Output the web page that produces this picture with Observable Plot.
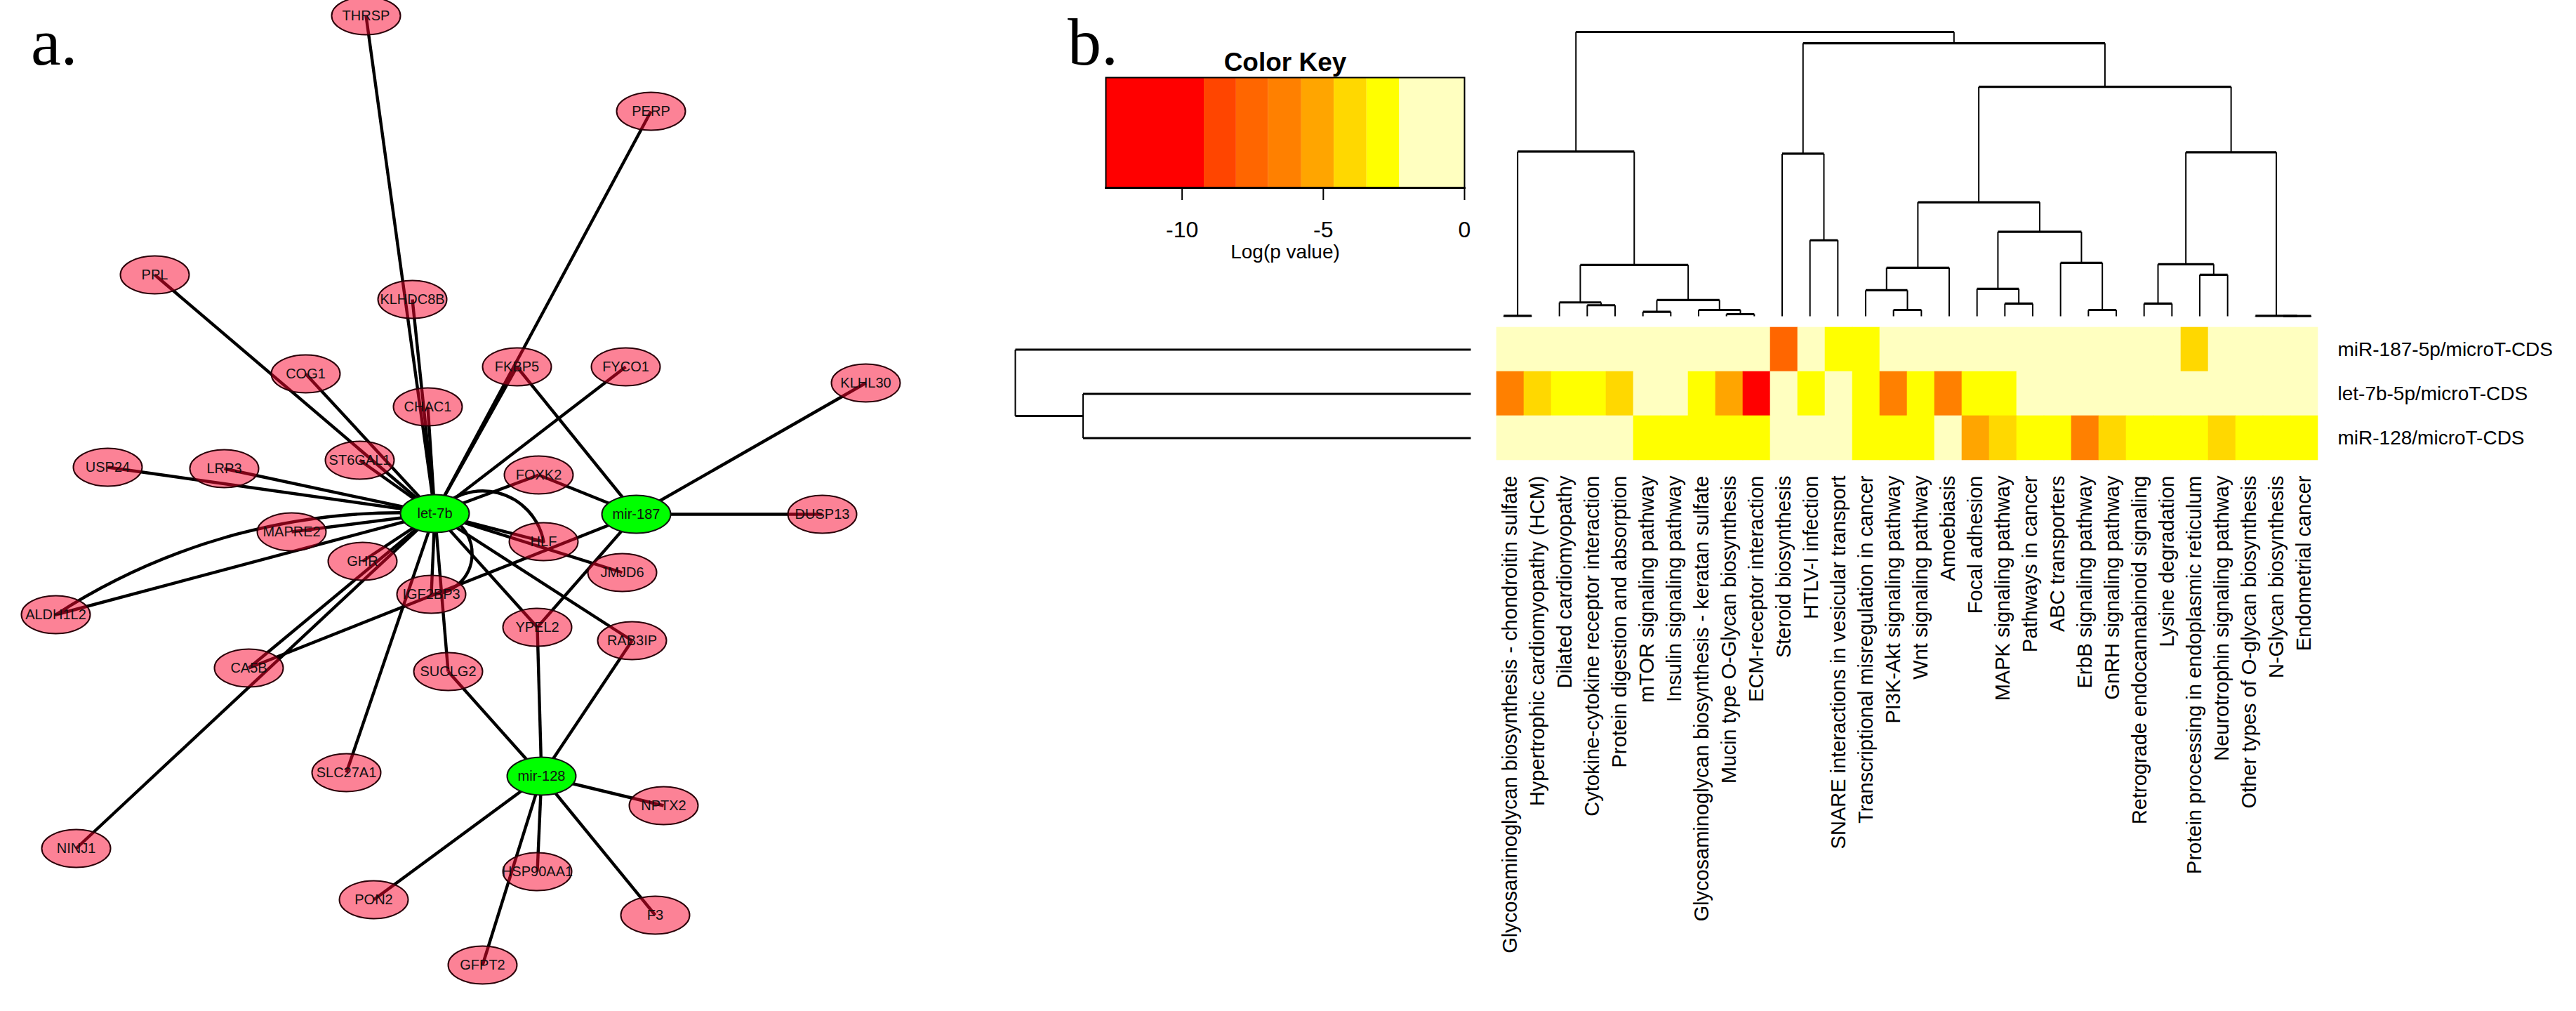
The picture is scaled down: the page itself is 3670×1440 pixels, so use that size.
<!DOCTYPE html>
<html>
<head>
<meta charset="utf-8">
<script src="https://cdn.jsdelivr.net/npm/d3@7"></script>
<script src="https://cdn.jsdelivr.net/npm/@observablehq/plot@0.6"></script>
<style>
  html, body { margin: 0; padding: 0; background: #fff; }
  #root { position: relative; width: 3670px; height: 1440px; overflow: hidden; background: #fff;
          font-family: "Liberation Sans", Arial, sans-serif; }
  .box { position: absolute; }
  .letter { position: absolute; font-family: "Liberation Serif", "Times New Roman", serif;
            font-size: 96px; line-height: 1; color: #000; }
</style>
</head>
<body>
<div id="root"></div>
<script>
// ---------------- Panel a: network data ----------------
const geneNames = ["THRSP","PERP","PPL","KLHDC8B","COG1","CHAC1","FKBP5","FYCO1","KLHL30","USP24","LRP3","ST6GAL1","FOXK2",
  "DUSP13","MAPRE2","HLF","GHR","JMJD6","IGF2BP3","ALDH1L2","YPEL2","RAB3IP","CA5B","SUCLG2","SLC27A1","NPTX2","NINJ1","HSP90AA1","PON2","F3","GFPT2"];
const geneX = [521,927,220,587,435,609,736,891,1233,153,319,512,767, 1171,415,774,516,886,614,79,765,900,354,638,493,945,108,765,532,933,687];
const geneY = [22,158,391,426,532,579,522,522,545,665,667,655,676, 732,757,771,799,815,846,875,893,912,951,956,1100,1147,1208,1241,1281,1303,1374];
const mirNames = ["let-7b","mir-187","mir-128"];
const mirX = [619, 906, 771];
const mirY = [731, 732, 1105];

const edgeSource = [
  "let-7b","let-7b","let-7b","let-7b","let-7b","let-7b","let-7b","let-7b","let-7b","let-7b","let-7b","let-7b","let-7b",
  "let-7b","let-7b","let-7b","let-7b","let-7b","let-7b","let-7b","let-7b","let-7b","let-7b","let-7b","let-7b","let-7b","let-7b",
  "mir-187","mir-187","mir-187","mir-187","mir-187","mir-187",
  "mir-128","mir-128","mir-128","mir-128","mir-128","mir-128","mir-128","mir-128"];
const edgeTarget = [
  "THRSP","PERP","PPL","KLHDC8B","COG1","CHAC1","FKBP5","FYCO1","USP24","LRP3","ST6GAL1","FOXK2","MAPRE2",
  "ALDH1L2","ALDH1L2","GHR","IGF2BP3","IGF2BP3","HLF","HLF","JMJD6","YPEL2","RAB3IP","SUCLG2","SLC27A1","CA5B","NINJ1",
  "FKBP5","FOXK2","KLHL30","DUSP13","YPEL2","CA5B",
  "YPEL2","RAB3IP","SUCLG2","NPTX2","PON2","HSP90AA1","F3","GFPT2"];
// bend angle (degrees) for curved parallel edges; 0 = straight
const edgeBend = [
  0,0,0,0,0,0,0,0,0,0,0,0,0,
  0,-18,0,0,88,0,65,0,0,0,0,0,0,0,
  0,0,0,0,0,0,
  0,0,0,0,0,0,0,0];

// ---------------- Panel b: heatmap data ----------------
const pathways = [
  "Glycosaminoglycan biosynthesis - chondroitin sulfate","Hypertrophic cardiomyopathy (HCM)","Dilated cardiomyopathy",
  "Cytokine-cytokine receptor interaction","Protein digestion and absorption","mTOR signaling pathway","Insulin signaling pathway",
  "Glycosaminoglycan biosynthesis - keratan sulfate","Mucin type O-Glycan biosynthesis","ECM-receptor interaction",
  "Steroid biosynthesis","HTLV-I infection","SNARE interactions in vesicular transport","Transcriptional misregulation in cancer",
  "PI3K-Akt signaling pathway","Wnt signaling pathway","Amoebiasis","Focal adhesion","MAPK signaling pathway","Pathways in cancer",
  "ABC transporters","ErbB signaling pathway","GnRH signaling pathway","Retrograde endocannabinoid signaling","Lysine degradation",
  "Protein processing in endoplasmic reticulum","Neurotrophin signaling pathway","Other types of O-glycan biosynthesis",
  "N-Glycan biosynthesis","Endometrial cancer"];
const rowNames = ["miR-187-5p/microT-CDS","let-7b-5p/microT-CDS","miR-128/microT-CDS"];
const miR187Values = [-0.6,-0.9,-0.4,-1.1,-0.8,-0.5,-0.7,-1.2,-0.9,-0.6,-7.6,-1.0,-2.8,-3.0,-0.7,-1.1,-0.9,-0.8,-0.5,-0.6,-0.9,-1.0,-0.8,-0.6,-0.7,-4.1,-0.5,-0.8,-0.6,-0.9];
const let7bValues  = [-6.5,-4.1,-3.0,-2.9,-3.9,-1.2,-1.0,-2.7,-5.3,-11.8,-0.9,-2.6,-1.1,-2.7,-6.2,-2.8,-6.6,-3.1,-2.9,-0.8,-1.0,-0.7,-0.9,-1.1,-0.6,-0.8,-1.0,-0.5,-0.7,-0.9];
const miR128Values = [-0.8,-1.0,-0.7,-0.9,-1.2,-3.0,-2.9,-3.1,-3.0,-2.6,-0.9,-1.1,-1.0,-2.8,-3.2,-2.7,-1.0,-5.1,-4.2,-2.8,-2.9,-6.3,-4.0,-2.7,-3.1,-2.6,-4.3,-3.0,-2.9,-3.2];

// colour key
const keyMin = -12.7;
const keyBreaks = [-9.22, -8.08, -6.94, -5.77, -4.62, -3.46, -2.30];
const keyColors = ["#FF0000","#FF4500","#FF6600","#FF8000","#FFA500","#FFD800","#FFFF00","#FFFFC0"];
const keyTicks = [-10, -5, 0];

// dendrograms (hclust-style merges: negative = leaf, positive = earlier merge), heights
const colMerge = [[-1,-2],[-4,-5],[-3,2],[-6,-7],[-9,-10],[-8,5],[4,6],[3,7],[1,8],[-12,-13],[-11,10],[-15,-16],[-14,12],[13,-17],
  [-19,-20],[-18,15],[-22,-23],[-21,17],[16,18],[14,19],[-24,-25],[-26,-27],[21,22],[-29,-30],[-28,24],[23,25],[20,26],[11,27],[9,28]];
const colHeight = [0.7,15.7,19.7,6.3,3,9,23,73,234,108,231,9,37,69,18,39,9,76,120,162,18,59,74,0.3,0.7,233,326,388,404];
const rowMerge = [[-2,-3],[-1,1]];
const rowHeight = [555, 652];

// ---------------- build ----------------
const root = document.getElementById("root");
const FONT = "'Liberation Sans', Arial, sans-serif";

function place(el, left, top) {
  const d = document.createElement("div");
  d.className = "box";
  d.style.left = left + "px";
  d.style.top = top + "px";
  d.appendChild(el);
  root.appendChild(d);
}

function ellipseSymbol(ratio) {
  return {
    draw(ctx, size) {
      const r = Math.sqrt(size / Math.PI), a = r, b = r * ratio, k = 0.5522847498;
      ctx.moveTo(a, 0);
      ctx.bezierCurveTo(a, b * k, a * k, b, 0, b);
      ctx.bezierCurveTo(-a * k, b, -a, b * k, -a, 0);
      ctx.bezierCurveTo(-a, -b * k, -a * k, -b, 0, -b);
      ctx.bezierCurveTo(a * k, -b, a, -b * k, a, 0);
      ctx.closePath();
    }
  };
}

// ---- network ----
const genes = geneNames.map((n, i) => ({name: n, x: geneX[i], y: geneY[i]}));
const mirs = mirNames.map((n, i) => ({name: n, x: mirX[i], y: mirY[i]}));
const pos = new Map([...genes, ...mirs].map(d => [d.name, d]));
const edges = edgeSource.map((s, i) => ({s: pos.get(s), t: pos.get(edgeTarget[i]), bend: edgeBend[i]}));
const straight = edges.filter(e => !e.bend);
const curved = edges.filter(e => e.bend);
const ell = ellipseSymbol(0.55);

const net = Plot.plot({
  width: 1300, height: 1440, margin: 0,
  style: {background: "transparent", maxWidth: "none", fontFamily: FONT, overflow: "visible"},
  x: {domain: [0, 1300], range: [0, 1300], axis: null},
  y: {domain: [0, 1440], range: [0, 1440], axis: null},
  marks: [
    Plot.link(straight, {x1: d => d.s.x, y1: d => d.s.y, x2: d => d.t.x, y2: d => d.t.y, stroke: "#000", strokeWidth: 4.4}),
    ...curved.map(e => Plot.arrow([e], {x1: d => d.s.x, y1: d => d.s.y, x2: d => d.t.x, y2: d => d.t.y,
        bend: e.bend, headLength: 0, stroke: "#000", strokeWidth: 4.4})),
    Plot.dot(genes, {x: "x", y: "y", r: 49, symbol: ell, fill: "rgb(250,6,46)", fillOpacity: 0.5, stroke: "#2a0008", strokeWidth: 2}),
    Plot.dot(mirs, {x: "x", y: "y", r: 49, symbol: ell, fill: "#00FF00", stroke: "#111", strokeWidth: 2}),
    Plot.text([...genes, ...mirs], {x: "x", y: "y", text: "name", fontSize: 20, fill: "#111", fontFamily: FONT})
  ]
});
place(net, 0, 0);

// ---- dendrogram helper ----
function dendroSegments(merge, height) {
  const p = [], h = [], segs = [];
  const P = k => k < 0 ? (-k - 1) + 0.5 : p[k - 1];
  const H = k => k < 0 ? 0 : h[k - 1];
  merge.forEach(([a, b], i) => {
    const pa = P(a), pb = P(b), hh = height[i];
    segs.push({p1: pa, p2: pb, h1: hh, h2: hh, kind: "cross"});
    segs.push({p1: pa, p2: pa, h1: H(a), h2: hh, kind: "stem"});
    segs.push({p1: pb, p2: pb, h1: H(b), h2: hh, kind: "stem"});
    p.push((pa + pb) / 2); h.push(hh);
  });
  return segs;
}

// ---- column dendrogram ----
const colSegs = dendroSegments(colMerge, colHeight);
const colDendro = Plot.plot({
  width: 1570, height: 460, marginLeft: 22, marginRight: 358, marginTop: 45, marginBottom: 10,
  style: {background: "transparent", maxWidth: "none", overflow: "visible"},
  x: {domain: [0, pathways.length], axis: null},
  y: {domain: [0, d3.max(colHeight)], axis: null},
  marks: [
    Plot.link(colSegs.filter(d => d.kind === "stem"), {x1: "p1", x2: "p2", y1: "h1", y2: "h2", stroke: "#000", strokeWidth: 2}),
    Plot.link(colSegs.filter(d => d.kind === "cross"), {x1: "p1", x2: "p2", y1: "h1", y2: "h2", stroke: "#000", strokeWidth: 3.2})
  ]
});
place(colDendro, 2100, 0);

// ---- row dendrogram ----
const rowSegs = dendroSegments(rowMerge, rowHeight);
const rowDendro = Plot.plot({
  width: 722, height: 1000, marginLeft: 46, marginRight: 27, marginTop: 26, marginBottom: 785,
  style: {background: "transparent", maxWidth: "none", overflow: "visible"},
  x: {domain: [d3.max(rowHeight), 0], axis: null},
  y: {domain: [rowNames.length, 0], axis: null},
  marks: [
    Plot.link(rowSegs.filter(d => d.kind === "stem"), {x1: "h1", x2: "h2", y1: "p1", y2: "p2", stroke: "#000", strokeWidth: 3.2}),
    Plot.link(rowSegs.filter(d => d.kind === "cross"), {x1: "h1", x2: "h2", y1: "p1", y2: "p2", stroke: "#000", strokeWidth: 2})
  ]
});
place(rowDendro, 1400, 440);

// ---- heatmap ----
const rowValues = [miR187Values, let7bValues, miR128Values];
const cells = rowNames.flatMap((r, i) => pathways.map((p, j) => ({row: r, pathway: p, value: rowValues[i][j]})));
const heat = Plot.plot({
  width: 1570, height: 1000, marginLeft: 22, marginRight: 358, marginTop: 26, marginBottom: 785,
  style: {background: "transparent", maxWidth: "none", overflow: "visible", fontFamily: FONT, fontSize: "29px"},
  x: {domain: pathways, padding: 0},
  y: {domain: rowNames, padding: 0},
  color: {type: "threshold", domain: keyBreaks, range: keyColors},
  marks: [
    Plot.cell(cells, {x: "pathway", y: "row", fill: "value", stroke: "value", strokeWidth: 0.6, inset: 0}),
    Plot.axisX({tickRotate: -90, tickSize: 0, tickPadding: 22, fontSize: 29, label: null, fill: "#000"}),
    Plot.axisY({anchor: "right", tickSize: 0, tickPadding: 18, fontSize: 28, label: null, fill: "#000"})
  ]
});
place(heat, 2100, 440);

// ---- colour key ----
const keyEdges = [keyMin, ...keyBreaks, 0];
const keyBands = keyColors.map((c, i) => ({x1: keyEdges[i], x2: keyEdges[i + 1], value: (keyEdges[i] + keyEdges[i + 1]) / 2}));
const key = Plot.plot({
  width: 620, height: 420, marginLeft: 75, marginRight: 34, marginTop: 110, marginBottom: 153,
  style: {background: "transparent", maxWidth: "none", overflow: "visible", fontFamily: FONT},
  x: {domain: [keyMin, 0]},
  color: {type: "threshold", domain: keyBreaks, range: keyColors},
  marks: [
    Plot.rect(keyBands, {x1: "x1", x2: "x2", fill: "value"}),
    Plot.frame({stroke: "#000", strokeWidth: 2}),
    Plot.frame({anchor: "bottom", stroke: "#000", strokeWidth: 3}),
    Plot.axisX({ticks: keyTicks, tickFormat: d => `${d}`, tickSize: 18, tickPadding: 30, fontSize: 32, label: null, strokeWidth: 2, fill: "#000"}),
    Plot.text(["Log(p value)"], {frameAnchor: "bottom", dy: 100, fontSize: 28, fill: "#000"}),
    Plot.text(["Color Key"], {frameAnchor: "top", dy: -36, fontSize: 37, fontWeight: "bold", fill: "#000"})
  ]
});
place(key, 1500, 0);

// ---- panel letters ----
function letter(t, left, top) {
  const d = document.createElement("div");
  d.className = "letter";
  d.textContent = t;
  d.style.left = left + "px";
  d.style.top = top + "px";
  root.appendChild(d);
}
letter("a.", 44, 12);
letter("b.", 1521, 12);
</script>
</body>
</html>
